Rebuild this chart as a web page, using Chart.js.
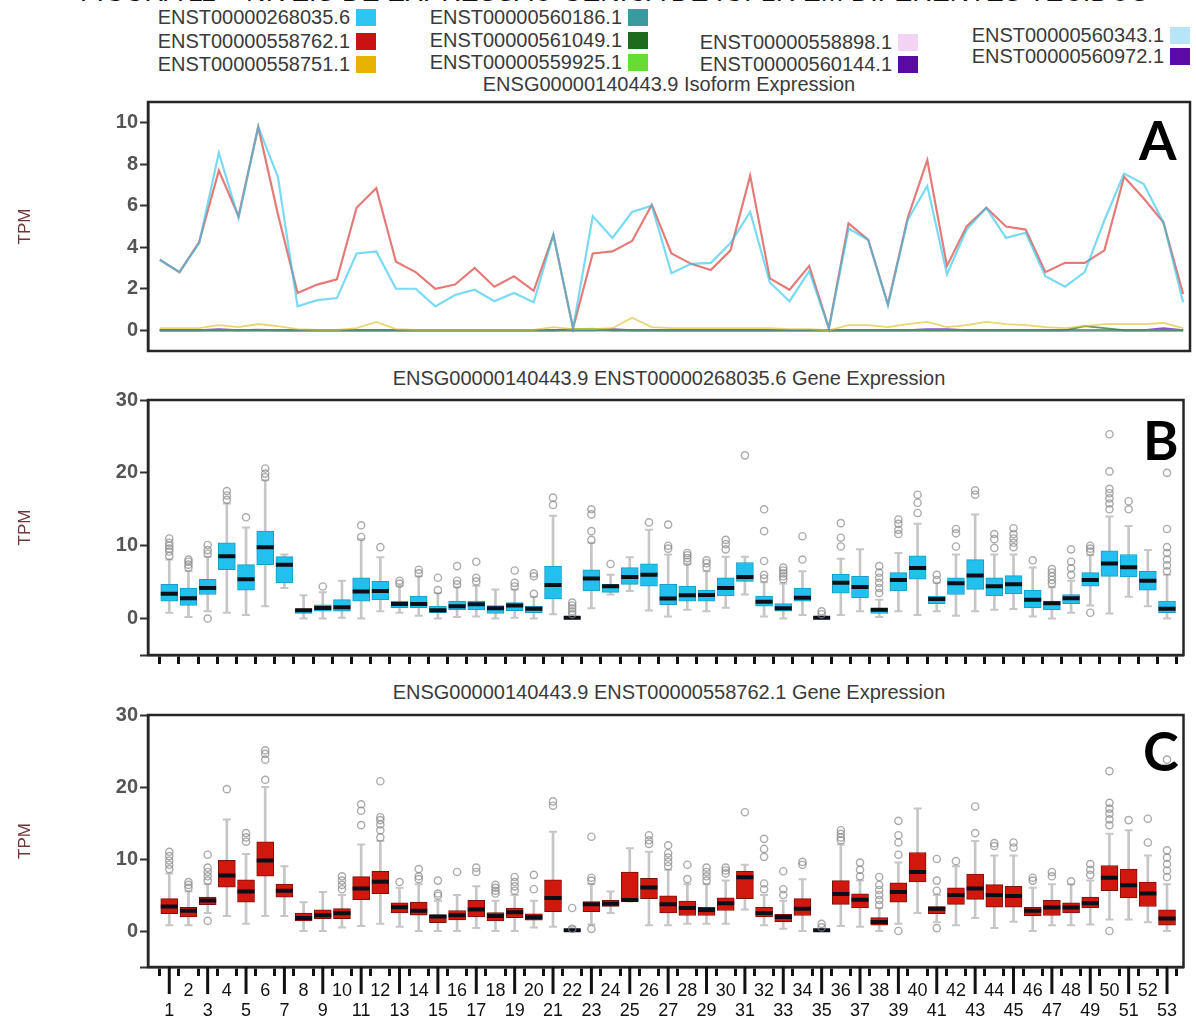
<!DOCTYPE html>
<html><head><meta charset="utf-8">
<script src="https://cdn.jsdelivr.net/npm/chart.js@4.4.1/dist/chart.umd.min.js"></script>
<style>
html,body{margin:0;padding:0;background:#fff;width:1196px;height:1019px;overflow:hidden;font-family:"Liberation Sans",Arial,sans-serif;}
#root{position:relative;width:1196px;height:1019px;overflow:hidden;}
canvas{position:absolute;left:0;}
.t{position:absolute;left:148px;width:1042px;text-align:center;font-size:20px;line-height:20px;color:#3a3a3a;white-space:nowrap;}
.lg{position:absolute;font-size:20px;line-height:20px;height:20px;color:#3a3a3a;white-space:nowrap;display:flex;align-items:center;}
.sw{display:inline-block;width:20px;height:17px;margin-left:6px;}
.pl{position:absolute;font-family:Lato,"Open Sans",sans-serif;font-weight:bold;font-size:54px;line-height:54px;color:#000;}
.top{position:absolute;left:80px;top:-21px;font-size:27px;line-height:27px;color:#111;white-space:nowrap;}
</style></head>
<body><div id="root">
<div class="top">FIGURA 11 – NÍVEIS DE EXPRESSÃO GÊNICA DE IGF1R EM DIFERENTES TECIDOS</div>
<div id="legend"></div>
<div class="t" style="top:74px">ENSG00000140443.9 Isoform Expression</div>
<div class="t" style="top:368px">ENSG00000140443.9 ENST00000268035.6 Gene Expression</div>
<div class="t" style="top:682px">ENSG00000140443.9 ENST00000558762.1 Gene Expression</div>
<canvas id="cA" width="1196" height="277" style="top:88px"></canvas>
<canvas id="cB" width="1196" height="294" style="top:386px"></canvas>
<canvas id="cC" width="1196" height="318" style="top:701px"></canvas>
<div class="pl" style="left:1139px;top:113px">A</div>
<div class="pl" style="left:1143px;top:413px">B</div>
<div class="pl" style="left:1143px;top:724px">C</div>
</div>
<script>
// ---------------- DATA ----------------
const categories = [1,2,3,4,5,6,7,8,9,10,11,12,13,14,15,16,17,18,19,20,21,22,23,24,25,26,27,28,29,30,31,32,33,34,35,36,37,38,39,40,41,42,43,44,45,46,47,48,49,50,51,52,53];

const isoNames = ["ENST00000268035.6","ENST00000558762.1","ENST00000558751.1","ENST00000560186.1","ENST00000561049.1","ENST00000559925.1","ENST00000558898.1","ENST00000560144.1","ENST00000560343.1","ENST00000560972.1"];
const isoColors = ["#2ec5f0","#cc1111","#e6b400","#3a9aa0","#1d6b1d","#66dd33","#f3d3f3","#5a0aa0","#b8e4f8","#5c0aa8"];

// Panel A: isoform expression (TPM)
const iso268035 = [3.4,2.8,4.2,8.55,5.4,9.8,7.4,1.15,1.45,1.55,3.7,3.8,2.0,2.0,1.15,1.7,1.95,1.4,1.8,1.35,4.6,0.1,5.5,4.45,5.7,6.0,2.75,3.2,3.25,4.2,5.7,2.3,1.4,2.85,0.1,4.9,4.35,1.2,5.3,6.95,2.7,4.85,5.9,4.45,4.7,2.6,2.1,2.8,5.3,7.55,7.05,5.2,1.35];
const iso558762 = [3.4,2.8,4.25,7.7,5.5,9.8,5.6,1.8,2.2,2.45,5.9,6.85,3.3,2.8,2.0,2.2,3.0,2.1,2.6,1.9,4.6,0.1,3.7,3.8,4.3,6.05,3.7,3.2,2.9,3.85,7.45,2.5,1.95,3.1,0.1,5.15,4.35,1.25,5.4,8.2,3.1,5.0,5.9,5.0,4.85,2.8,3.25,3.25,3.85,7.4,6.35,5.2,1.75];
const iso558751 = [0.1,0.1,0.1,0.25,0.15,0.3,0.2,0.05,0.02,0.02,0.1,0.4,0.05,0.02,0.02,0.02,0.02,0.02,0.02,0.02,0.15,0.05,0.05,0.1,0.6,0.15,0.1,0.1,0.1,0.1,0.1,0.1,0.05,0.05,0,0.25,0.25,0.15,0.3,0.4,0.15,0.25,0.4,0.3,0.25,0.15,0.1,0.2,0.3,0.3,0.3,0.35,0.1];
const iso560186 = [0,0,0,0,0,0,0,0,0,0,0,0,0,0,0,0,0,0,0,0,0,0,0,0,0,0,0,0,0,0,0,0,0,0,0,0,0,0,0,0,0,0,0,0,0,0,0,0,0,0,0,0,0];
const iso561049 = [0,0,0,0,0,0,0,0,0,0,0,0,0,0,0,0,0,0,0,0,0,0.03,0.03,0,0,0,0,0,0,0,0,0,0,0,0,0,0,0,0,0,0,0,0,0,0,0,0,0.2,0.1,0,0,0,0];
const iso559925 = [0,0,0,0,0,0,0,0,0,0,0,0,0,0,0,0,0,0,0,0,0,0.05,0.08,0,0,0,0,0,0,0,0,0,0,0,0,0,0,0,0,0,0,0,0,0,0,0,0,0,0,0,0,0,0];
const iso558898 = [0,0,0,0,0,0,0,0,0,0,0,0,0,0,0,0,0,0,0,0,0,0,0,0,0,0,0,0,0,0,0,0,0,0,0,0,0,0,0,0,0,0,0,0,0,0,0,0,0,0,0,0,0];
const iso560144 = [0,0,0,0.05,0,0.03,0,0,0,0,0,0,0,0,0,0,0,0,0,0,0,0,0,0.05,0,0,0,0,0,0,0,0,0,0,0,0,0,0,0,0,0,0,0,0,0,0,0,0,0,0,0,0,0];
const iso560343 = [0,0,0,0,0,0,0,0,0,0,0,0,0,0,0,0,0,0,0,0,0,0,0,0,0,0,0,0,0,0,0,0,0,0,0,0,0,0,0,0,0,0,0,0,0,0,0,0,0,0,0,0,0];
const iso560972 = [0,0,0,0,0,0,0,0,0,0,0,0,0,0,0,0,0,0,0,0,0,0,0,0,0,0,0,0,0,0,0,0,0,0,0,0,0,0,0,0.05,0.05,0,0,0,0,0,0,0,0,0,0,0.1,0];

// Panel B: ENST00000268035.6 box plots (median = iso268035)
const bLow  = [0.8,0.2,1.0,0.8,0.5,1.7,4.2,0,0,0.1,0,1.0,0.8,0.4,0,0.2,0.3,0,0.1,0,0.6,0,1.4,3.3,3.8,1.1,0.3,1.2,1.0,1.5,3.3,0.3,0,0.5,0,0.5,1.0,0.2,1.0,0.5,1.0,0.4,1.0,1.2,1.3,0.3,0,0.8,1.8,0.7,3.0,1.7,0];
const bQ1   = [2.4,1.8,3.3,6.7,3.9,7.4,4.9,0.7,1.0,1.0,2.4,2.6,1.5,1.5,0.8,1.2,1.2,0.7,1.1,0.8,2.7,0,3.8,3.6,4.7,4.45,1.9,2.4,2.4,3.1,5.1,1.7,1.0,2.4,0,3.5,2.85,0.7,3.8,5.4,2.05,3.3,4.0,3.1,3.4,1.5,1.2,2.05,4.45,5.8,5.7,3.9,0.8];
const bQ3   = [4.7,4.2,5.4,10.4,7.4,12.0,8.5,1.35,1.9,2.6,5.6,5.1,2.4,3.1,1.7,2.4,2.4,1.8,2.2,1.7,7.2,0.15,6.7,4.7,7.0,7.5,4.7,4.45,3.9,5.6,7.7,3.1,2.05,4.2,0.15,6.1,5.8,1.4,6.3,8.6,3.1,5.6,8.1,5.6,5.9,3.9,2.4,3.3,6.3,9.3,8.8,6.5,2.4];
const bHigh = [8.1,6.5,8.5,15.8,12.5,19.0,8.8,3.2,3.6,5.2,10.9,8.4,4.5,5.8,3.5,4.3,4.5,4.0,4.0,3.0,14.1,0.3,10.4,6.0,8.4,12.2,8.8,7.5,6.5,8.5,8.5,5.0,4.8,6.5,0.3,8.2,9.5,2.6,9.0,13.0,4.9,8.8,14.3,8.8,8.8,7.0,4.3,5.2,8.7,14.0,12.7,9.4,6.0];
const bOut  = [[8.6,9.2,9.6,10.0,10.4,11.0],[7.0,7.4,7.8,8.1],[0.0,8.9,9.4,10.1],[16.3,16.9,17.5],[13.9],[19.4,19.9,20.6],[],[],[4.4],[],
  [11.2,12.8],[9.8],[4.8,5.2],[6.2,6.7],[3.9,5.6],[4.7,5.2,7.2],[5.1,5.6,7.8],[],[4.4,4.9,6.6],[3.4,5.8,6.2],
  [15.6,16.6],[0.6,1.0,1.4,1.8,2.2],[10.8,12.0,14.3,15.0],[7.5],[],[13.2],[9.6,10.0,12.9],[7.8,8.3,8.7,9.0],[7.0,7.6,8.0],[9.5,10.2,10.8],
  [22.4],[5.5,6.0,7.9,12.0,15.0],[5.4,5.8,6.2,6.6,7.0],[8.1,11.3],[0.6,1.0],[9.9,11.1,13.1],[],[3.5,4.2,4.9,5.6,6.3,7.2],[11.6,12.2,13.0,13.6],[14.5,15.9,17.0],
  [5.3,6.0],[9.9,11.7,12.3],[17.0,17.6],[9.7,10.9,11.6],[9.8,10.4,11.0,11.6,12.4],[8.0],[4.8,5.3,5.8,6.3,6.8],[6.0,6.9,7.8,9.5],[0.8,9.2,9.6,10.0],[15.0,15.8,16.5,17.2,17.8,20.2,25.3],
  [15.0,16.1],[],[6.5,7.3,8.1,9.0,9.8,12.3,20.0]];

// Panel C: ENST00000558762.1 box plots (median = iso558762)
const cLow  = [0.8,0.8,2.5,2.1,1.0,2.1,2.1,0,0,0.5,0.7,1.0,0.6,0,0,0,0.4,0,0,0.5,0.6,0,0.9,2.5,4.1,0.8,0.8,1.0,1.0,1.0,3.0,0.8,0.3,0,0,0.7,0.6,0,1.0,2.5,1.2,0.8,1.8,0.4,1.3,0,0.8,0.8,0.9,1.6,1.6,1.2,0];
const cQ1   = [2.4,1.95,3.65,6.1,4.0,7.6,4.7,1.4,1.7,1.7,4.35,5.2,2.5,2.2,1.15,1.55,1.95,1.4,1.85,1.5,2.7,0,2.7,3.4,4.15,4.5,2.5,2.15,2.15,2.85,4.5,1.95,1.25,2.15,0,3.7,3.2,0.8,4.0,6.8,2.4,3.7,4.4,3.3,3.3,2.1,2.15,2.5,3.2,5.6,4.6,3.4,0.8];
const cQ3   = [4.5,3.3,4.7,9.8,7.1,12.4,6.5,2.5,2.95,3.1,7.55,8.3,3.9,4.0,2.25,2.85,4.25,2.55,3.2,2.4,7.1,0.15,4.1,4.25,8.2,7.3,4.9,4.15,3.3,4.6,8.3,3.3,2.3,4.5,0.15,7.0,5.15,1.85,6.7,10.9,3.4,6.0,7.9,6.45,6.2,3.3,4.25,3.9,4.7,9.1,8.6,6.8,2.95];
const cHigh = [8.0,5.5,6.5,15.5,10.7,20.0,9.0,4.0,5.4,5.0,12.0,12.5,6.0,6.5,4.2,5.0,6.2,4.2,5.0,4.2,13.8,0.6,6.5,5.5,11.5,11.0,8.5,6.5,6.5,7.0,9.2,5.0,4.2,7.2,0.3,12.0,7.0,3.2,9.5,17.0,5.0,9.0,12.5,10.5,10.5,6.0,6.5,6.5,7.0,13.5,14.0,10.5,6.5];
const cOut  = [[8.6,9.2,9.8,10.4,11.0],[6.0,6.4,6.8],[1.4,7.0,7.6,8.2,8.8,10.6],[19.7],[12.4,13.0,13.6],[21.0,23.8,24.6,25.1],[],[],[],[5.8,6.4,7.0,7.6],
  [14.7,16.7,17.6],[13.0,14.0,14.8,15.4,15.8,20.8],[6.8],[7.2,7.6,8.6],[4.9,5.2,7.0],[8.2],[8.2,8.8],[5.2,5.6,6.0,6.4],[5.6,6.2,6.8,7.5],[5.8,7.8],
  [17.4,18.0],[0.3,3.2],[0.3,7.0,7.4,13.1],[],[],[12.1,12.6,13.3],[9.0,9.6,10.2,10.8,11.9],[7.2,9.2],[7.0,7.6,8.2,8.8],[8.0,8.4,8.8],
  [16.5],[5.8,6.6,10.3,11.4,12.8],[5.0,5.8,8.3],[9.2,9.6],[0.5,1.0],[12.6,13.0,13.5,14.0],[7.6,8.5,9.5],[3.6,4.3,5.0,5.7,6.4,7.5],[0,10.6,12.3,13.3,15.3],[],
  [0.4,5.6,7.0,10.0],[9.7],[13.6,17.3],[11.8,12.2],[11.6,12.3],[7.0,7.4],[7.6,8.2],[6.9],[7.8,8.5,9.3],[0,14.7,15.5,16.3,17.0,17.8,22.2],
  [15.4],[12.3,15.6],[7.5,8.4,9.3,10.2,11.2,23.8]];

// Tick values
const aTicks = [0,2,4,6,8,10];
const bcTicks = [-5,0,10,20,30];

// ---------------- LAYOUT (positions/styles) ----------------
const legendPos = [[376,17],[376,41],[376,64],[648,17],[648,40],[648,62],[918,42],[918,64],[1190,35],[1190,56]];
const isoSeries = [iso268035,iso558762,iso558751,iso560186,iso561049,iso559925,iso558898,iso560144,iso560343,iso560972];
const lineStroke = ["rgba(40,195,235,0.62)","rgba(210,35,30,0.6)","rgba(225,190,40,0.65)","rgba(90,140,140,0.75)","rgba(29,107,29,0.7)","rgba(102,221,51,0.7)","rgba(240,200,240,0.7)","rgba(90,10,160,0.7)","rgba(184,228,248,0.7)","rgba(92,10,168,0.7)"];

// Legend (HTML)
const lg = document.getElementById('legend');
isoNames.forEach((n,k)=>{
  const d = document.createElement('div');
  d.className='lg';
  d.style.right = (1196 - legendPos[k][0]) + 'px';
  d.style.top = (legendPos[k][1] - 10) + 'px';
  d.innerHTML = '<span>'+n+'</span><span class="sw" style="background:'+isoColors[k]+'"></span>';
  lg.appendChild(d);
});

Chart.defaults.font.family = '"Liberation Sans", Arial, sans-serif';

const framePlugin = {id:'frame', afterDraw(chart){
  const {ctx, chartArea:a} = chart;
  ctx.save(); ctx.strokeStyle='#262626'; ctx.lineWidth=2.5;
  ctx.strokeRect(a.left, a.top, a.right-a.left, a.bottom-a.top);
  ctx.restore();
}};
const oddTickPlugin = {id:'oddTicks', afterDraw(chart){
  const {ctx, chartArea:a, scales} = chart;
  ctx.save(); ctx.strokeStyle='#111'; ctx.lineWidth=3;
  categories.filter(c=>c%2===1).forEach(c=>{
    const x = scales.x.getPixelForValue(c);
    ctx.beginPath(); ctx.moveTo(x, a.bottom); ctx.lineTo(x, a.bottom+27); ctx.stroke();
  });
  ctx.restore();
}};

function yAxis(ticksArr, min, max){
  return {
    min:min, max:max,
    afterBuildTicks: s => { s.ticks = ticksArr.map(v=>({value:v})); },
    afterFit: s => { s.width = 148; },
    ticks:{color:'#555', font:{size:20, weight:'bold'}, padding:2, callback:v => (v<0 ? '' : String(v))},
    grid:{drawOnChartArea:false, drawTicks:true, tickLength:8, tickWidth:2, tickColor:'#333'},
    border:{display:true, color:'#262626', width:2.5},
    title:{display:true, text:'TPM', color:'#6e3838', font:{size:17}, padding:{top:15,bottom:0}}
  };
}
function xAxis(showLabels, height){
  return {
    type:'linear', min:0.4, max:53.35,
    afterBuildTicks: s => { s.ticks = categories.map(v=>({value:v})); },
    afterFit: s => { s.height = height; },
    ticks:{autoSkip:false, maxRotation:0, minRotation:0, color:'#111', padding:5,
      font:{size:18, lineHeight:1.1},
      callback: v => showLabels ? (v%2===1 ? ['', String(v)] : String(v)) : ''},
    grid:{drawOnChartArea:false, drawTicks:true, tickLength:9, tickWidth:3, tickColor:'#111'},
    border:{display:true, color:'#262626', width:2.5}
  };
}

// Panel A
new Chart(document.getElementById('cA'), {
  type:'line',
  data:{datasets: isoSeries.map((arr,k)=>({
    label: isoNames[k],
    data: categories.map((c,i)=>({x:c, y:arr[i]})),
    borderColor: lineStroke[k], backgroundColor: lineStroke[k],
    borderWidth: k<2 ? 2.2 : 1.8, pointRadius:0, tension:0, fill:false
  }))},
  options:{
    responsive:false, animation:false, events:[],
    layout:{padding:{top:14,right:6,bottom:9,left:0}},
    plugins:{legend:{display:false}, tooltip:{enabled:false}},
    scales:{ x:{type:'linear', min:0.4, max:53.35, display:false}, y: yAxis(aTicks, -1, 11) }
  },
  plugins:[framePlugin]
});

function boxChart(id, low, q1, med, q3, high, out, fill, edge, showLabels, xh, extra){
  const caps = [];
  categories.forEach((c,i)=>{ caps.push({x:c,y:low[i]}); caps.push({x:c,y:high[i]}); });
  const outs = [];
  categories.forEach((c,i)=>{ out[i].forEach(v=>outs.push({x:c,y:v})); });
  return new Chart(document.getElementById(id), {
    type:'bar',
    data:{datasets:[
      {type:'bar', label:'whisker', data: categories.map((c,i)=>({x:c, y:[low[i], high[i]]})),
        backgroundColor:'#c6c6c6', borderWidth:0, barThickness:2, grouped:false, order:5},
      {type:'scatter', label:'caps', data: caps, pointStyle:'line', pointRadius:4,
        pointBorderWidth:2, pointBorderColor:'#c6c6c6', order:4},
      {type:'bar', label:'box', data: categories.map((c,i)=>({x:c, y:[q1[i], q3[i]]})),
        backgroundColor:fill, borderColor:edge, borderWidth:1, borderSkipped:false,
        barThickness:17, grouped:false, order:3},
      {type:'scatter', label:'median', data: categories.map((c,i)=>({x:c, y:med[i]})),
        pointStyle:'line', pointRadius:8.5, pointBorderWidth:4, pointBorderColor:'#0c0f18', order:2},
      {type:'scatter', label:'outliers', data: outs, pointStyle:'circle', pointRadius:3.6,
        pointBorderWidth:1.4, pointBorderColor:'rgba(135,135,135,0.7)', pointBackgroundColor:'rgba(0,0,0,0)', order:1}
    ]},
    options:{
      responsive:false, animation:false, events:[],
      layout:{padding:{top:14,right:6,bottom:0,left:0}},
      plugins:{legend:{display:false}, tooltip:{enabled:false}},
      scales:{ x: xAxis(showLabels, xh), y: yAxis(bcTicks, -5, 30) }
    },
    plugins: extra ? [framePlugin, extra] : [framePlugin]
  });
}

boxChart('cB', bLow, bQ1, iso268035, bQ3, bHigh, bOut, '#22c1ed', '#1a9cc4', false, 25, null);
boxChart('cC', cLow, cQ1, iso558762, cQ3, cHigh, cOut, '#d0180f', '#7a120c', true, 52, oddTickPlugin);
</script>
</body></html>
